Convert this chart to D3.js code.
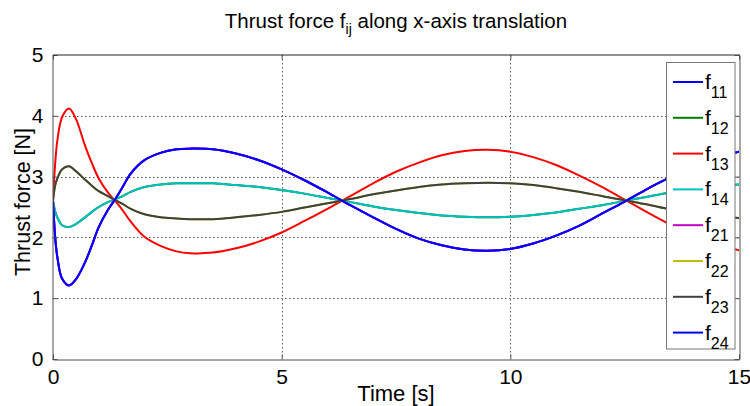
<!DOCTYPE html>
<html>
<head>
<meta charset="utf-8">
<script src="https://cdn.jsdelivr.net/npm/d3@7"></script>
<style>
  html, body { margin: 0; padding: 0; background: #fff; }
  svg { display: block; font-family: "Liberation Sans", Arial, Helvetica, sans-serif; }
</style>
</head>
<body>
<svg id="chart" width="750" height="406"></svg>
<script>
// Sample times [s]
const time = [0, 0.05, 0.1, 0.2, 0.35, 0.5, 0.7, 0.85, 1.0, 1.2, 1.37, 1.5, 1.7, 2.0, 2.35, 2.7, 3.0,
  3.5, 4.0, 4.5, 5.0, 5.5, 6.0, 6.5, 7.0, 7.5, 8.0, 8.5, 9.0, 9.5, 10.0, 10.5, 11.0, 11.5, 12.0,
  12.5, 13.0, 13.5, 14.0, 14.5, 15.0];

// Thrust forces [N]
const f11 = [2.60, 1.98, 1.65, 1.32, 1.21, 1.31, 1.59, 1.87, 2.17, 2.45, 2.64, 2.80, 3.05, 3.27, 3.39, 3.45, 3.46,
  3.45, 3.38, 3.27, 3.12, 2.94, 2.74, 2.53, 2.33, 2.14, 1.98, 1.87, 1.80, 1.78, 1.81, 1.90, 2.03, 2.19, 2.39,
  2.59, 2.80, 2.99, 3.17, 3.31, 3.41];
const f13 = [2.60, 3.24, 3.62, 3.98, 4.12, 3.95, 3.51, 3.22, 2.97, 2.74, 2.59, 2.47, 2.26, 2.01, 1.86, 1.77, 1.74,
  1.75, 1.82, 1.93, 2.08, 2.27, 2.47, 2.68, 2.89, 3.08, 3.23, 3.35, 3.42, 3.44, 3.41, 3.32, 3.19, 3.02, 2.83,
  2.62, 2.41, 2.21, 2.03, 1.89, 1.79];
const f14 = [2.60, 2.42, 2.32, 2.20, 2.17, 2.22, 2.33, 2.42, 2.50, 2.58, 2.63, 2.67, 2.75, 2.83, 2.87, 2.89, 2.89,
  2.89, 2.86, 2.83, 2.78, 2.72, 2.65, 2.58, 2.51, 2.45, 2.40, 2.36, 2.34, 2.33, 2.34, 2.37, 2.41, 2.47, 2.53,
  2.60, 2.67, 2.74, 2.79, 2.84, 2.87];
const f23 = [2.60, 2.86, 2.98, 3.12, 3.17, 3.09, 2.95, 2.85, 2.76, 2.68, 2.61, 2.56, 2.47, 2.38, 2.33, 2.31, 2.30,
  2.30, 2.33, 2.37, 2.42, 2.49, 2.56, 2.63, 2.71, 2.77, 2.83, 2.87, 2.89, 2.90, 2.89, 2.86, 2.81, 2.75, 2.68,
  2.61, 2.54, 2.46, 2.40, 2.35, 2.32];
// Forces that coincide with the ones above
const f12 = f14.slice();
const f21 = f11.slice();
const f22 = f23.slice();
const f24 = f11.slice();

const seriesNames = ["11", "12", "13", "14", "21", "22", "23", "24"];
const seriesValues = [f11, f12, f13, f14, f21, f22, f23, f24];
const seriesColors = ["#0000ff", "#008000", "#ff0000", "#00bfbf", "#bf00bf", "#bfbf00", "#404040", "#0000ff"];

const xTicks = [0, 5, 10, 15];
const yTicks = [0, 1, 2, 3, 4, 5];

const svg = d3.select("#chart");
const plot = { left: 53, right: 739, top: 55, bottom: 359 };

const x = d3.scaleLinear().domain([0, 15]).range([plot.left, plot.right]);
const y = d3.scaleLinear().domain([0, 5]).range([plot.bottom, plot.top]);

// Grid
const grid = svg.append("g").attr("stroke", "#555").attr("stroke-width", 1)
  .attr("stroke-dasharray", "1.5,2.5");
grid.selectAll(".gx").data(xTicks.slice(1, -1)).join("line")
  .attr("x1", d => Math.round(x(d)) + 0.5).attr("x2", d => Math.round(x(d)) + 0.5)
  .attr("y1", plot.top).attr("y2", plot.bottom);
grid.selectAll(".gy").data(yTicks.slice(1, -1)).join("line")
  .attr("y1", d => Math.round(y(d)) + 0.5).attr("y2", d => Math.round(y(d)) + 0.5)
  .attr("x1", plot.left).attr("x2", plot.right);

// Curves
svg.append("clipPath").attr("id", "plotclip").append("rect")
  .attr("x", plot.left).attr("y", plot.top)
  .attr("width", plot.right - plot.left).attr("height", plot.bottom - plot.top);

const line = d3.line()
  .x((d, i) => x(time[i]))
  .y(d => y(d))
  .curve(d3.curveCatmullRom.alpha(0.5));

svg.append("g").attr("clip-path", "url(#plotclip)")
  .selectAll("path").data(seriesValues).join("path")
  .attr("d", d => line(d))
  .attr("fill", "none")
  .attr("stroke", (d, i) => seriesColors[i])
  .attr("stroke-width", 2)
  .attr("stroke-linejoin", "round");

// Axes
const axisColor = "#505050";
const bottomAxis = svg.append("g").attr("transform", `translate(0,${plot.bottom + 0.5})`)
  .call(d3.axisBottom(x).tickValues(xTicks).tickFormat(d3.format("d"))
    .tickSizeInner(-5).tickSizeOuter(0).tickPadding(10));
const leftAxis = svg.append("g").attr("transform", `translate(${plot.left - 0.5},0)`)
  .call(d3.axisLeft(y).tickValues(yTicks).tickFormat(d3.format("d"))
    .tickSizeInner(-5).tickSizeOuter(0).tickPadding(9));
const topAxis = svg.append("g").attr("transform", `translate(0,${plot.top - 0.5})`)
  .call(d3.axisTop(x).tickValues(xTicks).tickSizeInner(-5).tickSizeOuter(0).tickFormat(""));
const rightAxis = svg.append("g").attr("transform", `translate(${plot.right + 0.5},0)`)
  .call(d3.axisRight(y).tickValues(yTicks).tickSizeInner(-5).tickSizeOuter(0).tickFormat(""));

[bottomAxis, leftAxis, topAxis, rightAxis].forEach(g => {
  g.selectAll("path, line").attr("stroke", axisColor);
  g.selectAll("text").attr("fill", "#000").attr("font-size", 21)
    .attr("font-family", "'Liberation Sans', Arial, sans-serif");
});
topAxis.select("path").attr("stroke", "#222");

// Title
const title = svg.append("text").attr("x", (plot.left + plot.right) / 2).attr("y", 28)
  .attr("text-anchor", "middle").attr("font-size", 20.5).attr("fill", "#000");
title.append("tspan").text("Thrust force f");
title.append("tspan").text("ij").attr("font-size", 14).attr("dy", 6);
title.append("tspan").text(" along x-axis translation").attr("dy", -6);

// Axis labels
svg.append("text").attr("x", (plot.left + plot.right) / 2).attr("y", 401)
  .attr("text-anchor", "middle").attr("font-size", 22).attr("fill", "#000").text("Time [s]");
svg.append("text").attr("transform", `translate(30,${(plot.top + plot.bottom) / 2 - 5}) rotate(-90)`)
  .attr("text-anchor", "middle").attr("font-size", 21.5).attr("fill", "#000").text("Thrust force [N]");

// Legend
const legend = svg.append("g");
legend.append("rect").attr("x", 666.5).attr("y", 62.5).attr("width", 68.5).attr("height", 286.5)
  .attr("fill", "#fff").attr("stroke", "#777").attr("stroke-width", 1);
const entry = legend.selectAll("g.entry").data(seriesNames).join("g")
  .attr("transform", (d, i) => `translate(0,${82 + i * 35.8})`);
entry.append("line").attr("x1", 673).attr("x2", 703).attr("y1", 0).attr("y2", 0)
  .attr("stroke", (d, i) => seriesColors[i]).attr("stroke-width", 2);
const lt = entry.append("text").attr("x", 705).attr("y", 7).attr("font-size", 21).attr("fill", "#000");
lt.append("tspan").text("f");
lt.append("tspan").text(d => d).attr("font-size", 16).attr("dy", 9);
</script>
</body>
</html>
